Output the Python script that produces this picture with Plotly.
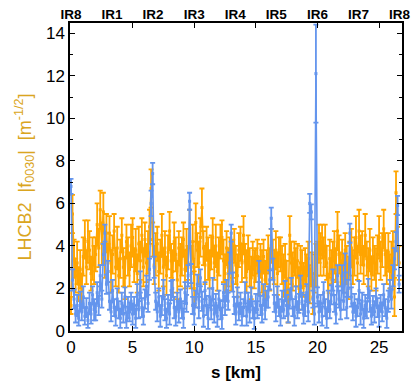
import plotly.graph_objects as go

# BPM spacing (km) and IR labels
ds = 0.125
ir_labels = ["IR8", "IR1", "IR2", "IR3", "IR4", "IR5", "IR6", "IR7", "IR8"]
ir_pos = [0.0, 3.3325, 6.665, 9.9975, 13.33, 16.6625, 19.995, 23.3275, 26.66]

orange_val = [
    1.2, 5.5, 3.4, 2.6, 3.2, 2.2, 2.9, 1.9,
    3.5, 4.3, 3.0, 4.2, 3.8, 2.7, 3.4, 3.1,
    3.6, 5.0, 3.9, 5.7, 4.1, 5.6, 3.3, 4.6,
    3.2, 4.6, 2.8, 3.6, 4.7, 3.0, 3.9, 2.6,
    3.4, 4.5, 3.0, 2.5, 4.2, 3.5, 2.9, 4.0,
    4.4, 3.1, 3.8, 2.7, 4.1, 3.3, 4.5, 3.0,
    4.3, 3.2, 3.7, 4.9, 6.7, 4.3, 3.1, 3.6,
    4.1, 2.8, 3.5, 4.5, 3.0, 3.9, 2.6, 3.7,
    4.7, 3.3, 2.8, 4.2, 3.6, 2.4, 3.9, 3.1,
    3.5, 4.3, 2.9, 3.8, 3.2, 4.8, 3.0, 4.2,
    2.0, 5.1, 3.8, 3.2, 4.4, 5.8, 3.9, 3.1,
    4.1, 3.4, 2.9, 3.7, 4.4, 3.2, 4.0, 2.8,
    3.5, 4.2, 4.4, 3.3, 2.7, 3.9, 3.0, 3.6,
    2.9, 3.4, 4.0, 3.1, 2.6, 3.8, 4.1, 3.2,
    4.5, 3.3, 2.8, 3.7, 3.0, 2.5, 3.4, 2.9,
    3.1, 3.5, 2.6, 3.3, 2.8, 3.5, 2.4, 3.0,
    3.6, 2.9, 4.0, 3.4, 3.0, 3.8, 2.7, 3.7,
    3.6, 3.1, 2.6, 3.3, 2.4, 1.2, 4.5, 3.2,
    2.8, 3.4, 3.0, 3.3, 2.0, 3.2, 2.9, 2.4,
    3.0, 2.6, 3.4, 2.2, 2.9, 1.6, 2.7, 3.1,
    3.4, 4.1, 3.6, 4.2, 3.5, 4.0, 3.2, 1.8,
    3.4, 3.0, 3.3, 3.7, 3.1, 4.7, 3.6, 2.9,
    3.3, 2.7, 3.8, 3.1, 2.5, 3.4, 3.9, 3.0,
    3.5, 4.4, 3.2, 4.7, 3.6, 3.9, 3.1, 4.5,
    3.4, 3.0, 3.8, 2.7, 3.5, 3.2, 2.9, 3.6,
    4.4, 3.3, 3.8, 4.8, 3.6, 3.0, 3.7, 2.8,
    3.3, 3.9, 1.6, 6.5, 4.0, 3.2,
]
orange_err = [
    0.4, 0.9, 0.9, 0.8, 1.0, 0.8, 0.9, 0.8,
    0.9, 0.9, 0.8, 1.0, 0.9, 0.8, 1.0, 0.9,
    0.8, 1.0, 0.9, 0.9, 1.0, 0.9, 0.8, 0.9,
    0.9, 0.8, 1.0, 0.9, 0.8, 0.9, 1.0, 0.8,
    0.9, 0.8, 0.9, 1.0, 0.8, 0.9, 0.8, 1.0,
    0.9, 0.8, 1.0, 0.9, 0.8, 0.9, 0.8, 0.9,
    0.8, 0.9, 1.0, 0.8, 0.9, 0.8, 0.9, 1.0,
    0.8, 0.9, 0.8, 1.0, 0.9, 0.8, 0.9, 0.8,
    0.9, 0.8, 1.0, 0.9, 0.8, 0.9, 0.8, 1.0,
    0.9, 0.8, 0.9, 1.0, 0.8, 0.9, 1.0, 0.8,
    0.8, 0.9, 0.8, 1.0, 0.9, 0.9, 0.8, 0.9,
    0.8, 1.0, 0.9, 0.8, 0.9, 0.8, 1.0, 0.9,
    0.9, 0.8, 0.8, 1.0, 0.9, 0.8, 0.9, 0.8,
    1.0, 0.9, 0.8, 0.9, 1.0, 0.8, 0.8, 0.9,
    0.9, 0.8, 1.0, 0.8, 0.9, 1.0, 0.8, 0.9,
    0.8, 0.8, 0.9, 0.8, 1.0, 0.8, 0.9, 0.8,
    0.9, 1.0, 0.8, 0.9, 0.8, 0.9, 1.0, 0.7,
    0.8, 0.9, 1.0, 0.8, 0.9, 0.8, 0.9, 1.0,
    0.9, 0.8, 0.9, 0.8, 1.0, 0.8, 0.9, 0.8,
    0.9, 1.0, 0.8, 0.9, 0.8, 0.8, 0.9, 1.0,
    0.8, 0.9, 1.0, 0.8, 0.9, 1.0, 0.8, 0.9,
    0.9, 0.8, 0.9, 1.0, 0.8, 0.9, 0.9, 0.8,
    1.0, 0.9, 0.8, 0.9, 1.0, 0.8, 0.9, 0.8,
    0.9, 1.0, 0.8, 1.0, 0.9, 0.8, 0.9, 1.0,
    0.8, 0.9, 1.0, 0.8, 0.9, 0.8, 1.0, 0.9,
    1.0, 0.9, 0.8, 0.9, 1.0, 0.8, 0.9, 0.8,
    0.9, 0.8, 0.9, 1.0, 0.9, 0.8,
]

blue_val = [
    6.8, 2.4, 1.5, 0.8, 1.2, 0.6, 1.4, 0.9,
    1.6, 0.7, 1.1, 0.5, 1.3, 0.8, 1.7, 1.0,
    0.9, 1.8, 1.2, 2.6, 1.5, 3.6, 4.6, 2.2,
    2.8, 1.4, 0.9, 1.9, 1.1, 0.7, 1.5, 1.0,
    0.6, 1.3, 0.8, 1.6, 0.5, 1.1, 0.9, 1.4,
    0.8, 1.2, 0.6, 1.7, 1.0, 2.3, 1.1, 0.7,
    1.5, 2.1, 1.3, 2.9, 6.0, 7.4, 3.0, 1.4,
    0.9, 1.6, 0.7, 1.2, 2.0, 1.0, 0.6, 1.3,
    0.8, 1.9, 2.0, 1.1, 0.7, 1.4, 0.9, 1.5,
    1.0, 0.6, 1.8, 1.3, 2.6, 6.1, 2.7, 1.2,
    0.8, 1.5, 2.2, 1.1, 2.5, 1.4, 0.7, 1.9,
    1.2, 0.6, 1.6, 1.0, 2.0, 0.8, 1.3, 0.7,
    1.5, 1.0, 0.6, 1.8, 1.2, 1.9, 1.4, 3.2,
    4.6, 2.3, 1.2, 0.8, 1.6, 0.9, 1.3, 0.7,
    1.1, 1.8, 0.7, 1.4, 0.9, 1.6, 1.0, 0.6,
    1.3, 1.0, 2.8, 1.2, 0.8, 1.7, 1.0, 1.5,
    1.6, 2.4, 5.3, 2.9, 1.3, 0.9, 1.6, 1.1,
    0.7, 1.4, 1.0, 1.9, 1.2, 0.8, 1.5, 2.0,
    1.1, 0.7, 1.6, 1.0, 1.3, 2.1, 1.4, 0.8,
    1.2, 1.8, 0.9, 6.0, 5.6, 1.5, 0.8, 12.1,
    1.6, 0.9, 1.3, 0.7, 1.8, 1.1, 0.6, 1.4,
    1.0, 1.7, 2.4, 1.3, 0.8, 2.6, 1.5, 1.0,
    2.6, 1.4, 3.2, 1.1, 2.0, 4.6, 1.6, 0.9,
    1.3, 0.7, 1.1, 1.9, 0.8, 1.4, 0.6, 1.2,
    1.0, 2.0, 1.4, 0.7, 1.2, 0.9, 1.6, 1.1,
    0.7, 1.3, 0.9, 1.7, 1.1, 0.6, 1.4, 2.0,
    1.5, 2.6, 3.4, 4.2, 5.9, 2.2,
]
blue_err = [
    0.35, 0.5, 0.45, 0.4, 0.5, 0.35, 0.45, 0.4,
    0.5, 0.4, 0.45, 0.35, 0.5, 0.45, 0.4, 0.5,
    0.4, 0.5, 0.45, 0.5, 0.4, 0.5, 0.4, 0.45,
    0.5, 0.4, 0.45, 0.5, 0.4, 0.45, 0.5, 0.4,
    0.45, 0.5, 0.4, 0.45, 0.35, 0.5, 0.45, 0.4,
    0.5, 0.4, 0.45, 0.5, 0.4, 0.5, 0.45, 0.4,
    0.45, 0.5, 0.4, 0.5, 0.6, 0.5, 0.5, 0.4,
    0.45, 0.4, 0.5, 0.45, 0.4, 0.5, 0.45, 0.4,
    0.5, 0.45, 0.4, 0.5, 0.45, 0.4, 0.5, 0.45,
    0.4, 0.45, 0.5, 0.4, 0.5, 0.4, 0.45, 0.4,
    0.5, 0.4, 0.45, 0.5, 0.4, 0.45, 0.5, 0.4,
    0.45, 0.5, 0.4, 0.45, 0.5, 0.4, 0.45, 0.5,
    0.4, 0.45, 0.5, 0.4, 0.45, 0.5, 0.4, 0.5,
    0.4, 0.45, 0.4, 0.5, 0.45, 0.4, 0.5, 0.45,
    0.4, 0.5, 0.45, 0.4, 0.5, 0.45, 0.4, 0.5,
    0.45, 0.4, 0.5, 0.45, 0.4, 0.5, 0.45, 0.4,
    0.5, 0.45, 0.5, 0.5, 0.4, 0.45, 0.5, 0.4,
    0.45, 0.5, 0.4, 0.45, 0.5, 0.4, 0.45, 0.5,
    0.4, 0.45, 0.5, 0.4, 0.45, 0.5, 0.4, 0.45,
    0.5, 0.4, 0.45, 0.45, 0.35, 0.4, 0.5, 2.3,
    0.45, 0.5, 0.4, 0.45, 0.5, 0.4, 0.45, 0.5,
    0.4, 0.45, 0.5, 0.4, 0.45, 0.5, 0.4, 0.45,
    0.5, 0.4, 0.45, 0.5, 0.4, 0.45, 0.45, 0.4,
    0.45, 0.5, 0.4, 0.45, 0.5, 0.4, 0.45, 0.5,
    0.4, 0.45, 0.5, 0.4, 0.45, 0.5, 0.4, 0.45,
    0.5, 0.4, 0.45, 0.5, 0.4, 0.45, 0.5, 0.4,
    0.45, 0.5, 0.5, 0.45, 0.45, 0.4,
]

s_orange = [i * ds for i in range(len(orange_val))]
s_blue = [i * ds for i in range(len(blue_val))]

ORANGE = "#FFA500"
BLUE = "#6495ED"
FONT = "Liberation Sans, Arial, sans-serif"

fig = go.Figure()
fig.add_trace(go.Scatter(
    x=s_orange, y=orange_val, mode="lines+markers",
    line=dict(color=ORANGE, width=1.6),
    marker=dict(color=ORANGE, size=3, symbol="square"),
    error_y=dict(type="data", array=orange_err, color=ORANGE, thickness=1.8, width=2.5),
    showlegend=False,
))
fig.add_trace(go.Scatter(
    x=s_blue, y=blue_val, mode="lines+markers",
    line=dict(color=BLUE, width=1.6),
    marker=dict(color=BLUE, size=3, symbol="square"),
    error_y=dict(type="data", array=blue_err, color=BLUE, thickness=1.8, width=2.5),
    showlegend=False,
))
# invisible trace to carry the top IR axis
fig.add_trace(go.Scatter(
    x=ir_pos, y=[0] * len(ir_pos), xaxis="x2", mode="markers",
    marker=dict(opacity=0), showlegend=False, hoverinfo="skip",
))

xr = [-0.08, 26.86]
fig.update_layout(
    width=417, height=386,
    margin=dict(l=70, r=7, t=23, b=53),
    paper_bgcolor="white", plot_bgcolor="white",
    font=dict(family=FONT, size=17, color="black"),
    xaxis=dict(
        range=xr, tickvals=[0, 5, 10, 15, 20, 25],
        ticks="inside", ticklen=5, tickwidth=1, tickcolor="black",
        showline=True, linecolor="black", linewidth=1.5, mirror="ticks",
        showgrid=False, zeroline=False,
        title=dict(text="<b>s [km]</b>", font=dict(size=17), standoff=10),
    ),
    xaxis2=dict(
        range=xr, overlaying="x", side="top", anchor="y",
        tickvals=ir_pos, ticktext=[f"<b>{t}</b>" for t in ir_labels],
        ticks="", showline=False, showgrid=False, zeroline=False,
        tickfont=dict(size=13.5),
    ),
    yaxis=dict(
        range=[0, 14.48], tickvals=[0, 2, 4, 6, 8, 10, 12, 14],
        ticks="inside", ticklen=5, tickwidth=1, tickcolor="black",
        minor=dict(dtick=1, ticks="inside", ticklen=3, tickcolor="black"),
        showline=True, linecolor="black", linewidth=1.5, mirror="ticks",
        showgrid=False, zeroline=False,
        title=dict(
            text="LHCB2  |f<sub>0030</sub>|  [m<sup>-1/2</sup>]",
            font=dict(size=18, color="#DAA520"), standoff=10,
        ),
    ),
)

fig.write_html("out.html")
